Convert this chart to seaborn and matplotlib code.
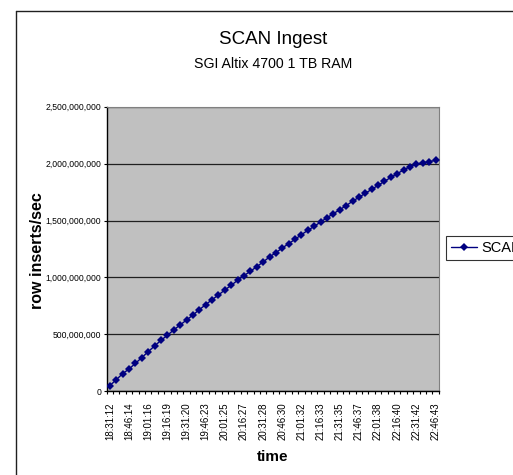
import matplotlib
matplotlib.use("Agg")
import matplotlib.pyplot as plt
import matplotlib.ticker as mticker
from matplotlib.lines import Line2D
import seaborn as sns
import pandas as pd
import numpy as np

# ---- data ----
tick_labels = ["18:31:12", "18:46:14", "19:01:16", "19:16:19", "19:31:20", "19:46:23",
               "20:01:25", "20:16:27", "20:31:28", "20:46:30", "21:01:32", "21:16:33",
               "21:31:35", "21:46:37", "22:01:38", "22:16:40", "22:31:42", "22:46:43"]
label_every = 3
series_name = "SCAN"
values_m = [50, 102, 155, 196, 246, 296, 348, 398, 448, 492,
            539, 583, 626, 670, 717, 761, 805, 846, 890, 931,
            975, 1016, 1054, 1095, 1136, 1180, 1218, 1259, 1297, 1335,
            1376, 1414, 1449, 1487, 1525, 1560, 1595, 1631, 1669, 1704,
            1739, 1774, 1809, 1844, 1879, 1912, 1944, 1973, 1996, 2007,
            2017, 2029]
values = [v * 1_000_000 for v in values_m]

sns.set_style("white")
plt.rcParams['font.family'] = ['Liberation Sans', 'DejaVu Sans']
plt.rcParams['text.color'] = 'black'
plt.rcParams['axes.labelcolor'] = 'black'
plt.rcParams['xtick.color'] = 'black'
plt.rcParams['ytick.color'] = 'black'

W, H = 513, 475
fig = plt.figure(figsize=(W / 100, H / 100), dpi=100)
fig.patch.set_facecolor("white")
ax = fig.add_axes([106.7 / W, 1 - 391.3 / H, (438.7 - 106.7) / W, (391.3 - 106.7) / H])
ax.set_facecolor("#C0C0C0")

df = pd.DataFrame({"idx": np.arange(len(values)), "value": values, "series": series_name})
sns.lineplot(data=df, x="idx", y="value", hue="series", palette=["#000080"],
             marker="D", markersize=3.8, markeredgewidth=0, linewidth=1.0,
             ax=ax, legend=False, zorder=3)

n = len(values)
ax.set_xlim(-0.5, n - 0.5)
ax.set_ylim(0, 2_500_000_000)
ax.yaxis.set_major_locator(mticker.MultipleLocator(500_000_000))
ax.yaxis.set_major_formatter(mticker.FuncFormatter(lambda v, p: f"{int(v):,}"))
ax.grid(axis="y", color="#202020", linewidth=0.9, zorder=1)
ax.set_axisbelow(True)

major_pos = list(range(0, n, label_every))
ax.set_xticks(major_pos)
ax.set_xticklabels(tick_labels, rotation=90, fontsize=7)
ax.set_xticks(np.arange(-0.5, n, 1.0), minor=True)
ax.tick_params(axis="x", which="major", length=0, pad=8)
ax.tick_params(axis="x", which="minor", length=2.5, width=0.8, direction="out", color="black")
ax.tick_params(axis="y", which="major", length=2.5, width=0.8, direction="out",
               color="black", labelsize=6.2, pad=1.5)
ax.tick_params(axis="both", labelcolor="black")
ax.xaxis.set_ticks_position("bottom")
ax.yaxis.set_ticks_position("left")

ax.set_xlabel("")
ax.set_ylabel("")
for side in ["top", "right"]:
    ax.spines[side].set_color("#808080")
    ax.spines[side].set_linewidth(0.8)
for side in ["left", "bottom"]:
    ax.spines[side].set_color("black")
    ax.spines[side].set_linewidth(1.0)

cx = 272.7 / W
fig.text(cx, 1 - 39 / H, "SCAN Ingest", ha="center", va="center", fontsize=13.5, color="black")
fig.text(cx, 1 - 64 / H, "SGI Altix 4700 1 TB RAM", ha="center", va="center", fontsize=10.2,
         color="black")
fig.text(38 / W, 1 - 251 / H, "row inserts/sec", rotation=90, ha="center", va="center",
         fontsize=11.5, fontweight="bold", color="black")
fig.text(cx, 1 - 457 / H, "time", ha="center", va="center", fontsize=11, fontweight="bold",
         color="black")

# chart-area border (right/bottom edges fall outside the image)
fig.add_artist(Line2D([16 / W, 16 / W], [0, 1 - 10.7 / H], transform=fig.transFigure,
                      color="#202020", linewidth=1.0))
fig.add_artist(Line2D([16 / W, 1], [1 - 10.7 / H, 1 - 10.7 / H], transform=fig.transFigure,
                      color="#202020", linewidth=1.0))

handle = Line2D([], [], color="#000080", marker="D", markersize=3.8, markeredgewidth=0, linewidth=1.0)
leg = fig.legend([handle], [series_name], loc="upper left",
                 bbox_to_anchor=(446 / W, 1 - 236 / H), fontsize=10.5,
                 frameon=True, fancybox=False, edgecolor="black", handlelength=1.8,
                 handletextpad=0.3, borderpad=0.35, borderaxespad=0, labelcolor="black")
leg.get_frame().set_linewidth(0.8)

fig.savefig("out.png", dpi=100)
